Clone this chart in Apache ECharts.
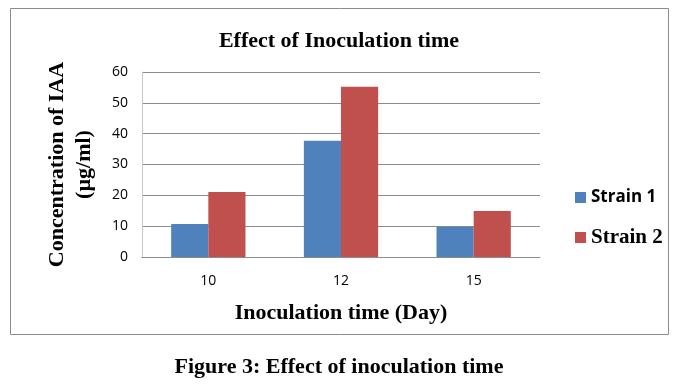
<!DOCTYPE html>
<html><head><meta charset="utf-8">
<script src="https://cdn.jsdelivr.net/npm/echarts@6/dist/echarts.min.js"></script>
<style>html,body{margin:0;padding:0;background:#fff}#c{width:678px;height:392px}</style>
</head><body><div id="c"></div>
<script>
const categories = ['10', '12', '15'];
const strain1 = [10.7, 37.7, 9.8];
const strain2 = [21.1, 55.2, 14.9];
const yTicks = [0, 60, 10];
const seriesNames = ['Strain 1', 'Strain 2'];

const chart = echarts.init(document.getElementById('c'));
const serif = '"Liberation Serif","Times New Roman",serif';
const sans = '"Open Sans","Liberation Sans",sans-serif';
chart.setOption({
  animation: false,
  backgroundColor: '#fff',
  title: {
    text: 'Effect of Inoculation time',
    left: 'center', top: 25,
    textStyle: {fontFamily: serif, fontWeight: 'bold', fontSize: 22, color: '#000'}
  },
  grid: {left: 142, right: 138, top: 72, bottom: 135, containLabel: false},
  legend: {
    orient: 'vertical', left: 570, top: 184,
    itemWidth: 11, itemHeight: 11, itemGap: 21,
    icon: 'rect',
    data: seriesNames,
    formatter: function (n) { return n === 'Strain 1' ? '{a|' + n + '}' : '{b|' + n + '}'; },
    textStyle: {
      color: '#000',
      rich: {
        a: {fontFamily: sans, fontWeight: 'bold', fontSize: 17, color: '#000'},
        b: {fontFamily: serif, fontWeight: 'bold', fontSize: 21, color: '#000'}
      }
    }
  },
  xAxis: {
    type: 'category', data: categories,
    name: 'Inoculation time (Day)', nameLocation: 'middle', nameGap: 45,
    nameTextStyle: {fontFamily: serif, fontWeight: 'bold', fontSize: 22, color: '#000'},
    axisLine: {lineStyle: {color: '#8c8c8c', width: 1}},
    axisTick: {show: false},
    axisLabel: {fontFamily: sans, fontSize: 14, color: '#000', margin: 17}
  },
  yAxis: {
    type: 'value', min: yTicks[0], max: yTicks[1], interval: yTicks[2],
    name: 'Concentration of IAA\n(µg/ml)', nameLocation: 'middle', nameGap: 44,
    nameRotate: 90,
    nameTextStyle: {fontFamily: serif, fontWeight: 'bold', fontSize: 22, color: '#000', lineHeight: 27},
    axisLine: {show: true, lineStyle: {color: '#c8c8c8', width: 1}},
    axisTick: {show: false},
    axisLabel: {fontFamily: sans, fontSize: 14, color: '#000', margin: 14},
    splitLine: {lineStyle: {color: '#8c8c8c', width: 1}}
  },
  series: [
    {name: seriesNames[0], type: 'bar', data: strain1, barGap: '0%', barCategoryGap: '44%',
     itemStyle: {color: '#4F81BD'}},
    {name: seriesNames[1], type: 'bar', data: strain2, barGap: '0%', barCategoryGap: '44%',
     itemStyle: {color: '#C0504D'}}
  ],
  graphic: [
    {type: 'rect', shape: {x: 10.5, y: 8.5, width: 658, height: 326},
     style: {fill: null, stroke: '#8c8c8c', lineWidth: 1}, z: -1},
    {type: 'text', left: 'center', top: 356,
     style: {text: 'Figure 3: Effect of inoculation time', font: 'bold 22px ' + serif, fill: '#000'}}
  ]
});
</script></body></html>
